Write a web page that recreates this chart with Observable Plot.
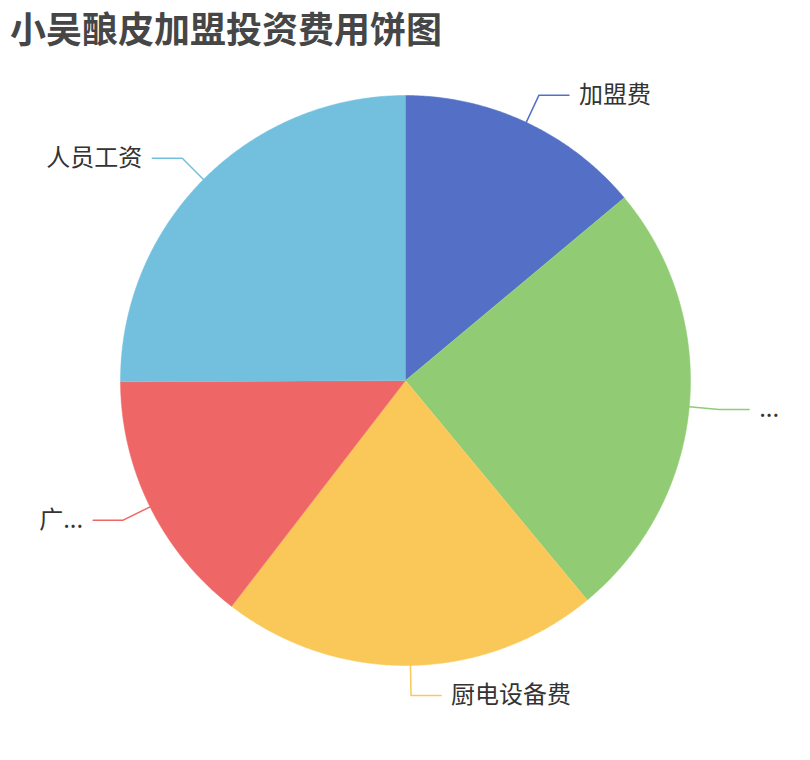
<!DOCTYPE html>
<html>
<head>
<meta charset="utf-8">
<script src="https://cdn.jsdelivr.net/npm/d3@7"></script>
<script src="https://cdn.jsdelivr.net/npm/@observablehq/plot@0.6"></script>
<style>
  body { margin: 0; background: #fff; font-family: "Noto Sans CJK SC", "Noto Sans", sans-serif; }
  #title { height: 55px; line-height: 55px; padding-left: 10px; font-size: 36px; font-weight: bold; color: #464646; white-space: nowrap; }
</style>
</head>
<body>
<div id="title">小吴酿皮加盟投资费用饼图</div>
<div id="chart"></div>
<script>
const categories = ["加盟费", "...", "厨电设备费", "广...", "人员工资"];
const values = [50000, 90000, 77000, 52000, 90000];
const colors = ["#5470c6", "#91cc75", "#fac858", "#ee6666", "#73c0de"];

const W = 810, H = 705;
const cx = 405, cy = 325, R = 285, L1 = 30, L2 = 30, GAP = 10;

const arcs = d3.pie().sort(null).value(d => d)(values);
const pt = (a, r) => ({x: cx + r * Math.sin(a), y: cy - r * Math.cos(a)});

// slice outlines
const slicePts = [];
arcs.forEach((a, i) => {
  const name = categories[i];
  slicePts.push({name, ...pt(0, 0)});
  const n = Math.max(2, Math.ceil((a.endAngle - a.startAngle) / (Math.PI / 360)));
  for (let k = 0; k <= n; k++) {
    const t = a.startAngle + (a.endAngle - a.startAngle) * k / n;
    slicePts.push({name, ...pt(t, R)});
  }
});

// leader lines and labels
const leaderPts = [];
const labelRows = [];
arcs.forEach((a, i) => {
  const name = categories[i];
  const mid = (a.startAngle + a.endAngle) / 2;
  const p0 = pt(mid, R), p1 = pt(mid, R + L1);
  const right = p1.x >= cx;
  const p2 = {x: p1.x + (right ? L2 : -L2), y: p1.y};
  leaderPts.push({name, ...p0}, {name, ...p1}, {name, ...p2});
  labelRows.push({name, x: p2.x + (right ? GAP : -GAP), y: p2.y, anchor: right ? "start" : "end"});
});

const chart = Plot.plot({
  width: W, height: H,
  margin: 0,
  x: {domain: [0, W], range: [0, W], axis: null},
  y: {domain: [0, H], range: [0, H], axis: null},
  color: {domain: categories, range: colors},
  style: {fontFamily: '"Noto Sans CJK SC", "Noto Sans", sans-serif', background: "#fff"},
  marks: [
    Plot.line(slicePts, {x: "x", y: "y", z: "name", fill: "name", stroke: "name", strokeWidth: 0.5, curve: "linear"}),
    Plot.line(leaderPts, {x: "x", y: "y", z: "name", stroke: "name", strokeWidth: 1.5, curve: "linear"}),
    Plot.text(labelRows.filter(d => d.anchor === "start"), {x: "x", y: "y", text: "name", textAnchor: "start", fontSize: 24, fill: "#333"}),
    Plot.text(labelRows.filter(d => d.anchor === "end"), {x: "x", y: "y", text: "name", textAnchor: "end", fontSize: 24, fill: "#333"})
  ]
});
document.getElementById("chart").appendChild(chart);
</script>
</body>
</html>
